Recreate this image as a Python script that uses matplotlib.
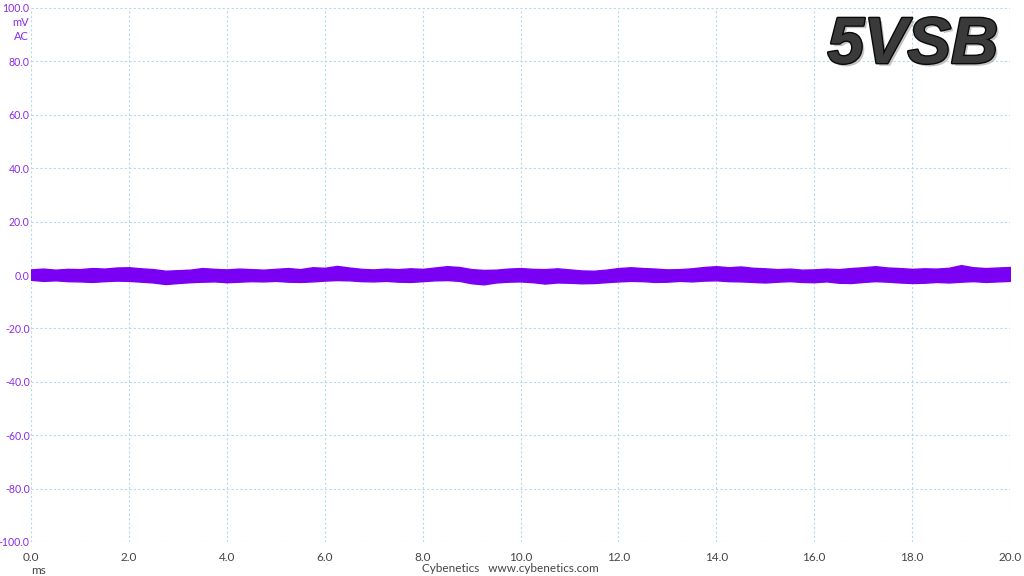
import matplotlib.pyplot as plt
import matplotlib.patheffects as pe
import numpy as np

# time axis (ms) of the envelope samples
t_ms = np.arange(0, 20.01, 0.25)

# upper / lower envelope of the 5VSB ripple trace (mV)
upper_mv = [2.1, 2.4, 2.0, 2.3, 2.2, 2.6, 2.4, 2.8, 2.9, 2.5,
            2.2, 1.6, 1.8, 2.0, 2.6, 2.3, 2.1, 2.4, 2.2, 2.0,
            2.3, 2.6, 2.2, 2.9, 2.7, 3.4, 2.8, 2.3, 2.1, 2.4,
            2.2, 2.5, 2.3, 2.8, 3.3, 3.0, 2.2, 1.9, 2.0, 2.4,
            2.6, 2.3, 2.2, 2.5, 2.1, 1.7, 1.6, 2.0, 2.6, 2.9,
            2.6, 2.4, 2.1, 2.2, 2.5, 3.0, 3.3, 2.9, 3.2, 2.7,
            2.5, 2.2, 2.4, 2.0, 2.1, 2.4, 2.2, 2.6, 2.9, 3.3,
            2.8, 2.6, 2.3, 2.5, 2.4, 2.7, 3.7, 2.9, 2.6, 2.8,
            3.0]
lower_mv = [-1.8, -2.2, -2.0, -2.3, -2.4, -2.6, -2.3, -2.1, -2.2, -2.5,
            -2.8, -3.4, -3.0, -2.7, -2.5, -2.4, -2.7, -2.5, -2.3, -2.4,
            -2.2, -2.5, -2.6, -2.4, -2.1, -1.9, -2.0, -2.3, -2.4, -2.2,
            -2.5, -2.6, -2.3, -2.0, -1.9, -2.2, -3.1, -3.5, -2.8, -2.5,
            -2.4, -2.7, -3.2, -2.8, -2.9, -3.1, -3.0, -2.7, -2.4, -2.2,
            -2.3, -2.6, -2.5, -2.2, -2.4, -2.1, -2.0, -2.3, -2.4, -2.6,
            -2.8, -2.5, -2.3, -2.6, -2.7, -2.4, -2.9, -3.0, -2.6, -2.3,
            -2.5, -2.8, -3.0, -2.9, -2.6, -2.8, -2.5, -2.3, -2.6, -2.4,
            -2.2]

x_ticks = np.arange(0, 20.01, 2)
y_ticks = np.arange(-100, 100.01, 20)

trace_col = '#7A00F4'
label_col = '#8A2BE2'
grid_col = '#B3DCE8'
text_font = 'Lato'

fig = plt.figure(figsize=(10.24, 5.76), dpi=100)
ax = fig.add_axes([31/1024, 34/576, 979/1024, 534/576])

ax.fill_between(t_ms, lower_mv, upper_mv, color=trace_col, lw=1.0, edgecolor=trace_col)

ax.set_xlim(0, 20)
ax.set_ylim(-100, 100)
ax.set_xticks(x_ticks)
ax.set_yticks(y_ticks)
ax.set_xticklabels(['%.1f' % v for v in x_ticks])
ax.set_yticklabels(['%.1f' % v for v in y_ticks])
ax.tick_params(length=0, pad=7)
ax.tick_params(axis='x', colors='#444444', labelsize=8.5)
ax.tick_params(axis='y', colors=label_col, labelsize=7.6, pad=1)
for lbl in ax.get_xticklabels() + ax.get_yticklabels():
    lbl.set_family(text_font)
for s in ax.spines.values():
    s.set_visible(False)
ax.grid(True, color=grid_col, linestyle=(0, (2, 2)), linewidth=0.8)
ax.set_axisbelow(True)

# unit labels under the top y tick
fig.text(29/1024, 1 - 22/576, 'mV', color=label_col, fontsize=8,
         ha='right', va='center', family=text_font)
fig.text(29/1024, 1 - 37/576, 'AC', color=label_col, fontsize=8,
         ha='right', va='center', family=text_font)
fig.text(38/1024, 1 - 570/576, 'ms', color='#444444', fontsize=8.5,
         ha='center', va='center', family=text_font)
fig.text(510/1024, 1 - 569/576, 'Cybenetics   www.cybenetics.com', color='#444444',
         fontsize=8.5, ha='center', va='center', family=text_font)

# rail name
fig.text(998/1024, 1 - 63/576, '5VSB', fontsize=47, fontweight='bold',
         fontstyle='italic', family='Liberation Sans', color='#3a3a3a',
         ha='right', va='baseline',
         path_effects=[pe.withSimplePatchShadow(offset=(2, -2), shadow_rgbFace='#aaaaaa', alpha=0.7),
                       pe.withStroke(linewidth=2, foreground='#0a0a0a')])

fig.savefig('out.png', dpi=100)
